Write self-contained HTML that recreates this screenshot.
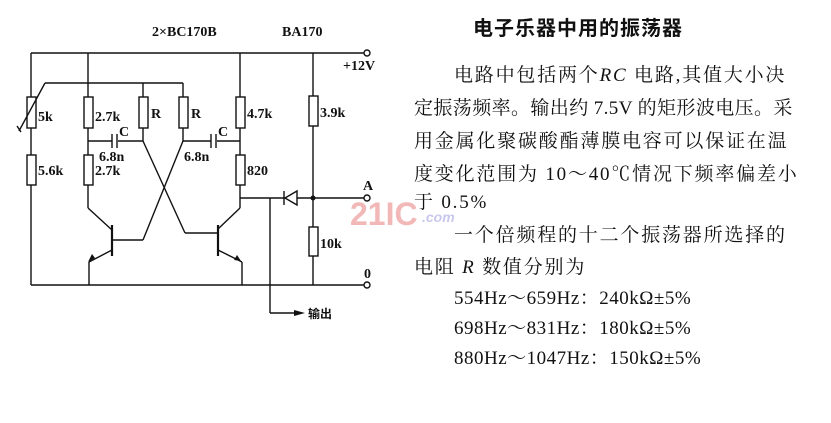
<!DOCTYPE html>
<html><head><meta charset="utf-8"><style>
body{margin:0;width:831px;height:423px;background:#fff;overflow:hidden;position:relative;font-family:"Liberation Serif","Noto Serif CJK SC",serif;color:#111}
.t{position:absolute;white-space:nowrap;font-size:19px;letter-spacing:1.8px;line-height:1}
</style></head><body>
<svg width="831" height="423" style="position:absolute;left:0;top:0" font-family="Liberation Serif, serif" font-size="14" font-weight="bold">
<g stroke="#111" stroke-width="1.4" fill="none">
<line x1="31" y1="53" x2="364" y2="53"/>
<line x1="31" y1="285" x2="364" y2="285"/>
<line x1="31" y1="53" x2="31" y2="285"/>
<rect x="27" y="97" width="9" height="31" fill="#fff"/>
<rect x="27" y="155" width="9" height="30" fill="#fff"/>
<line x1="19" y1="131" x2="45" y2="83"/>
<line x1="45" y1="83" x2="183" y2="83"/>
<line x1="17" y1="126" x2="21" y2="132"/>
<line x1="88" y1="53" x2="88" y2="208"/>
<rect x="84" y="97" width="9" height="31" fill="#fff"/>
<rect x="84" y="155" width="9" height="30" fill="#fff"/>
<line x1="143" y1="83" x2="143" y2="141"/>
<rect x="139" y="97" width="9" height="31" fill="#fff"/>
<line x1="183" y1="83" x2="183" y2="141"/>
<rect x="179" y="97" width="9" height="31" fill="#fff"/>
<line x1="88" y1="141" x2="112" y2="141"/><line x1="118" y1="141" x2="143" y2="141"/>
<line x1="112" y1="134" x2="112" y2="148"/><line x1="117" y1="134" x2="117" y2="148"/>
<line x1="183" y1="141" x2="211" y2="141"/><line x1="217" y1="141" x2="240" y2="141"/>
<line x1="211" y1="134" x2="211" y2="148"/><line x1="216" y1="134" x2="216" y2="148"/>
<line x1="240" y1="53" x2="240" y2="208"/>
<rect x="236" y="97" width="9" height="31" fill="#fff"/>
<rect x="236" y="155" width="9" height="30" fill="#fff"/>
<line x1="313" y1="53" x2="313" y2="285"/>
<rect x="309" y="96" width="9" height="30" fill="#fff"/>
<rect x="309" y="227" width="9" height="29" fill="#fff"/>
<line x1="240" y1="198" x2="364" y2="198"/>
<line x1="270" y1="198" x2="270" y2="313"/><line x1="270" y1="313" x2="298" y2="313"/>
<line x1="112" y1="225" x2="112" y2="256" stroke-width="2.2"/>
<line x1="88" y1="208" x2="112" y2="230"/>
<line x1="112" y1="250" x2="89" y2="262"/><line x1="89" y1="262" x2="89" y2="285"/>
<line x1="112" y1="240" x2="143" y2="240"/><line x1="143" y1="240" x2="183" y2="141"/>
<line x1="143" y1="141" x2="185" y2="233"/><line x1="185" y1="233" x2="218" y2="233"/>
<line x1="218" y1="225" x2="218" y2="256" stroke-width="2.2"/>
<line x1="218" y1="229" x2="240" y2="208"/>
<line x1="218" y1="250" x2="242" y2="262"/><line x1="242" y1="262" x2="242" y2="285"/>
<circle cx="367" cy="53" r="3" fill="#fff"/>
<circle cx="367" cy="198" r="3" fill="#fff"/>
<circle cx="367" cy="285" r="3" fill="#fff"/>
<line x1="284" y1="191" x2="284" y2="205"/>
</g>
<polygon points="285,198 297,191 297,205" fill="#fff" stroke="#111" stroke-width="1.4"/>
<circle cx="313" cy="198" r="2.5" fill="#111"/>
<polygon points="95,258 88,262 92,254" fill="#111"/>
<polygon points="241,261 234,260 237,255" fill="#111"/>
<polygon points="305,313 294,310 294,316" fill="#111"/>
<g fill="#111">
<text x="152" y="36">2×BC170B</text><text x="282" y="36">BA170</text>
<text x="343" y="70">+12V</text>
<text x="38" y="121">5k</text><text x="38" y="175">5.6k</text>
<text x="95" y="121">2.7k</text><text x="95" y="175">2.7k</text>
<text x="99" y="161">6.8n</text><text x="184" y="161">6.8n</text>
<text x="151" y="118">R</text><text x="191" y="118">R</text>
<text x="119" y="136">C</text><text x="218" y="136">C</text>
<text x="247" y="118">4.7k</text><text x="247" y="175">820</text>
<text x="320" y="117">3.9k</text><text x="320" y="248">10k</text>
<text x="363" y="190">A</text><text x="364" y="278">0</text>
<text x="308" y="318" font-family="Noto Sans CJK SC, sans-serif" font-size="12">输出</text>
</g>
<text x="350" y="225" font-family="Liberation Sans, sans-serif" font-weight="bold" font-size="32" fill="#f2b8b8">21IC</text>
<text x="422" y="222" font-family="Liberation Sans, sans-serif" font-size="14" fill="#c8c8ee" font-style="italic">.com</text>
</svg>
<div class="t" style="left:473px;top:17px;font-size:20px;font-weight:bold;letter-spacing:1px;font-family:'Noto Sans CJK SC',sans-serif">电子乐器中用的振荡器</div>
<div class="t" style="left:454px;top:66px">电路中包括两个<i>RC</i> 电路,其值大小决</div>
<div class="t" style="left:414px;top:99px;letter-spacing:0.4px">定振荡频率。输出约 7.5V 的矩形波电压。采</div>
<div class="t" style="left:414px;top:132px">用金属化聚碳酸酯薄膜电容可以保证在温</div>
<div class="t" style="left:414px;top:165px">度变化范围为 10～40℃情况下频率偏差小</div>
<div class="t" style="left:414px;top:193px">于 0.5%</div>
<div class="t" style="left:454px;top:226px">一个倍频程的十二个振荡器所选择的</div>
<div class="t" style="left:414px;top:258px">电阻 <i>R</i> 数值分别为</div>
<div class="t" style="left:454px;top:289px;letter-spacing:0.5px">554Hz～659Hz：240kΩ±5%</div>
<div class="t" style="left:454px;top:319px;letter-spacing:0.5px">698Hz～831Hz：180kΩ±5%</div>
<div class="t" style="left:454px;top:349px;letter-spacing:0.5px">880Hz～1047Hz：150kΩ±5%</div>
</body></html>
